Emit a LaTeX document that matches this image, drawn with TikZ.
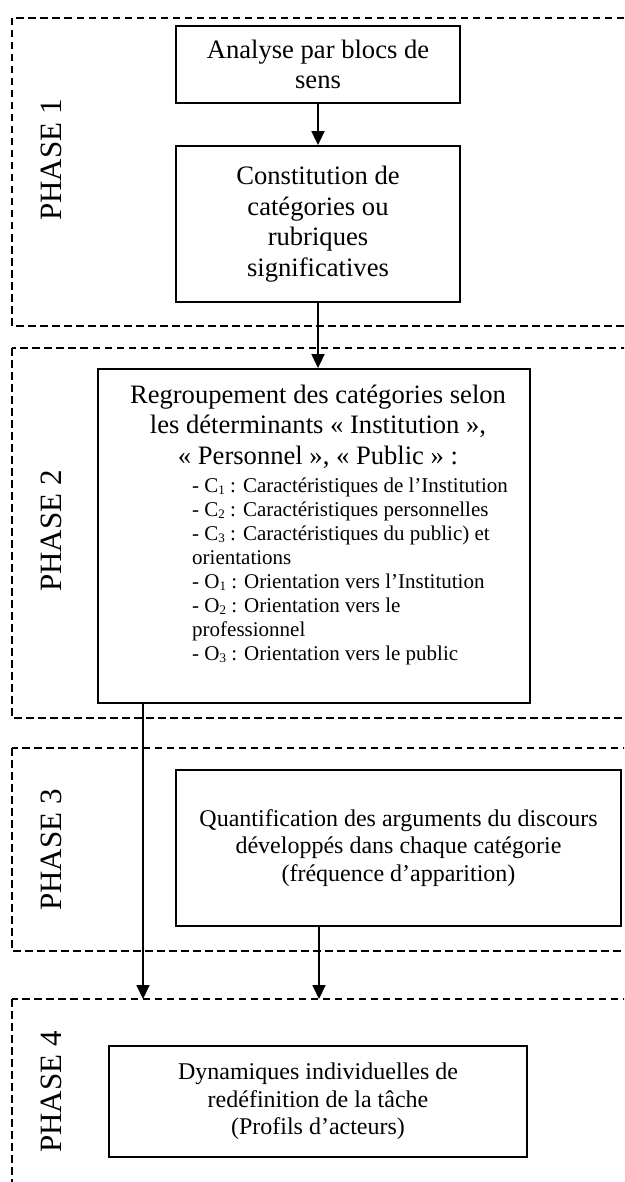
\documentclass[tikz,border=0pt]{standalone}
\usepackage{fontspec}
\setmainfont{Liberation Serif}
\usetikzlibrary{arrows.meta}

\newcommand{\indice}[1]{{\fontsize{13}{13}\selectfont\raisebox{-0.35ex}{#1}}}

\begin{document}
\begin{tikzpicture}[x=1pt, y=-1pt,
  box/.style={draw, line width=1.8pt, inner sep=0pt, align=center},
  phasebox/.style={line width=1.7pt, dash pattern=on 7.5pt off 4.5pt},
  phaselabel/.style={rotate=90, inner sep=0pt, font=\fontsize{31}{31}\selectfont},
  arr/.style={line width=1.8pt, -{Triangle[width=13pt,length=14pt]}},
  big/.style={font=\fontsize{26.6}{30.5}\selectfont},
  mid/.style={font=\fontsize{24}{27.5}\selectfont},
  small/.style={font=\fontsize{21}{24}\selectfont}]

  \clip (0,0) rectangle (624,1182);

  % cadres des phases
  \draw [phasebox] (12,18) rectangle (700,326);
  \draw [phasebox] (12,348) rectangle (700,718);
  \draw [phasebox] (12,748) rectangle (700,951);
  \draw [phasebox] (12,999) rectangle (700,1250);

  \node [phaselabel] (p1) at (51,160) {PHASE 1};
  \node [phaselabel] (p2) at (51,531) {PHASE 2};
  \node [phaselabel] (p3) at (51,850) {PHASE 3};
  \node [phaselabel] (p4) at (51,1092) {PHASE 4};

  % phase 1
  \node [box, big, minimum width=284pt, minimum height=77pt] (analyse) at (318,64.5)
    {Analyse par blocs de\\sens};
  \node [box, big, minimum width=284pt, minimum height=156pt] (constit) at (318,224)
    {Constitution de\\catégories ou\\rubriques\\significatives};

  % phase 2
  \node [box, minimum width=432pt, minimum height=334pt] (regroup) at (314,536) {};
  \node [big, align=center, anchor=north, inner sep=0pt] (titre) at (318,384.6)
    {Regroupement des catégories selon\\les déterminants «~Institution~»,\\«~Personnel~», «~Public~»~:};
  \node [small, align=left, anchor=north west, inner sep=0pt] (liste) at (192,477.5)
    {- C\indice{1} : Caractéristiques de l’Institution\\
     - C\indice{2} : Caractéristiques personnelles\\
     - C\indice{3} : Caractéristiques du public) et\\
     orientations\\
     - O\indice{1} : Orientation vers l’Institution\\
     - O\indice{2} : Orientation vers le\\
     professionnel\\
     - O\indice{3} : Orientation vers le public};

  % phase 3
  \node [box, mid, minimum width=445pt, minimum height=156pt] (quantif) at (398.5,848)
    {Quantification des arguments du discours\\développés dans chaque catégorie\\(fréquence d’apparition)};

  % phase 4
  \node [box, mid, minimum width=418pt, minimum height=111pt] (dynam) at (318,1101.5)
    {Dynamiques individuelles de\\redéfinition de la tâche\\(Profils d’acteurs)};

  % flèches
  \coordinate (fin1) at (143,999);
  \coordinate (fin2) at (319,999);
  \draw [arr] (analyse) -- (constit);
  \draw [arr] (constit.south) -- (constit.south |- regroup.north);
  \draw [arr] (fin1 |- regroup.south) -- (fin1);
  \draw [arr] (fin2 |- quantif.south) -- (fin2);

\end{tikzpicture}
\end{document}
